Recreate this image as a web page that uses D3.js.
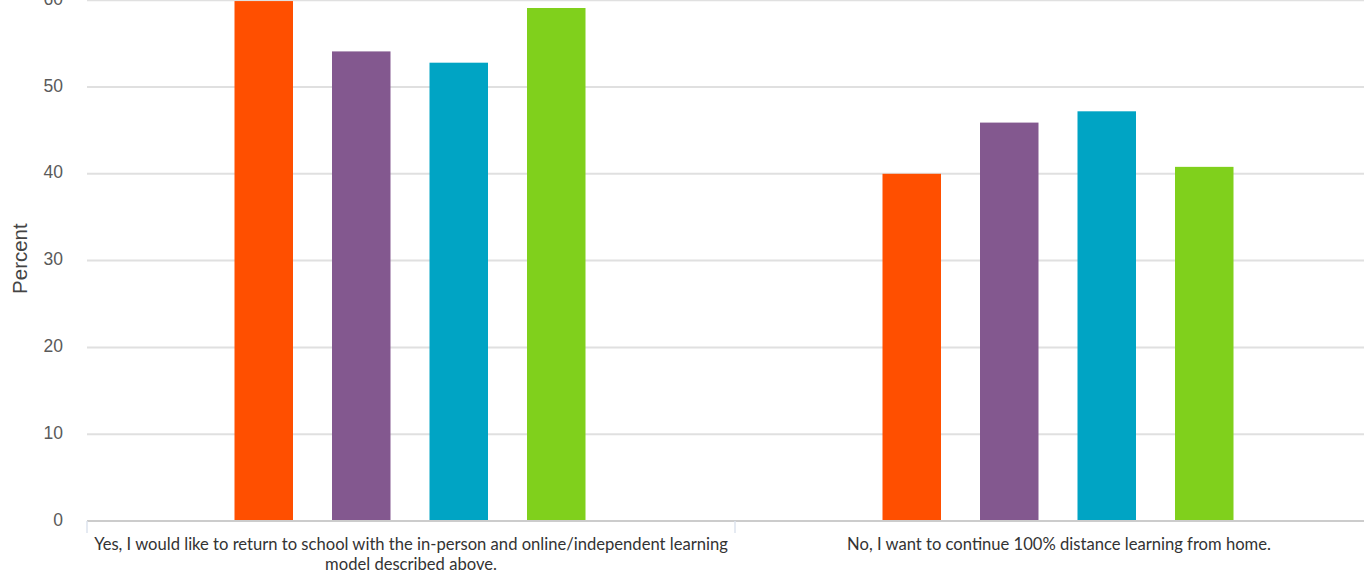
<!DOCTYPE html>
<html>
<head>
<meta charset="utf-8">
<script src="https://cdn.jsdelivr.net/npm/d3@7"></script>
<style>
  html, body { margin: 0; padding: 0; background: #fff; overflow: hidden; }
  svg { display: block; }
  text { font-family: Lato, "Open Sans", sans-serif; }
</style>
</head>
<body>
<svg id="chart" width="1364" height="577"></svg>
<script>
const categories = [
  "Yes, I would like to return to school with the in-person and online/independent learning model described above.",
  "No, I want to continue 100% distance learning from home."
];
const categoryLines = [
  ["Yes, I would like to return to school with the in-person and online/independent learning", "model described above."],
  ["No, I want to continue 100% distance learning from home."]
];
const seriesNames = ["Series 1", "Series 2", "Series 3", "Series 4"];
const seriesColors = ["#ff4f00", "#83588f", "#00a4c4", "#80d01c"];
const seriesValues = [
  [59.9, 40.0],
  [54.1, 45.9],
  [52.8, 47.2],
  [59.1, 40.8]
];
const yTicks = [0, 10, 20, 30, 40, 50, 60];
const yTitle = "Percent";

const svg = d3.select("#chart");
const plotLeft = 87, bandW = 648, plotTop = 0.2, plotBottom = 521;

const x0 = d3.scaleBand().domain(categories).range([plotLeft, plotLeft + bandW * categories.length]).padding(0);
const x1 = d3.scaleBand().domain(seriesNames).range([128, 518]).paddingInner(0.4).paddingOuter(0.2);
const y = d3.scaleLinear().domain([0, 60]).range([plotBottom, plotTop]);

// gridlines
svg.append("g").selectAll("line").data(yTicks.filter(t => t !== 0)).join("line")
  .attr("x1", plotLeft).attr("x2", 1364)
  .attr("y1", d => y(d)).attr("y2", d => y(d))
  .attr("stroke", "#e0e0e0").attr("stroke-width", 2);

// y tick labels
svg.append("g").selectAll("text").data(yTicks).join("text")
  .attr("x", 63).attr("y", d => y(d))
  .attr("text-anchor", "end").attr("dominant-baseline", "middle")
  .style("font-family", "'Liberation Sans', Arial, sans-serif")
  .attr("font-size", 17.5).attr("fill", "#5a5a5a")
  .text(d => d);

// y title
svg.append("text")
  .attr("transform", `translate(27,${(plotTop + plotBottom) / 2 - 2}) rotate(-90)`)
  .attr("text-anchor", "middle")
  .style("font-family", "'Liberation Sans', Arial, sans-serif")
  .attr("font-size", 20.5).attr("fill", "#444")
  .text(yTitle);

// bars
const groups = svg.append("g").selectAll("g").data(categories).join("g")
  .attr("transform", d => `translate(${x0(d)},0)`);
groups.selectAll("rect")
  .data((d, ci) => seriesNames.map((s, si) => ({ s, v: seriesValues[si][ci], c: seriesColors[si] })))
  .join("rect")
  .attr("x", d => x1(d.s))
  .attr("width", x1.bandwidth())
  .attr("y", d => y(d.v))
  .attr("height", d => y(0) - y(d.v))
  .attr("fill", d => d.c);

// x axis line
svg.append("line")
  .attr("x1", plotLeft).attr("x2", 1364).attr("y1", plotBottom).attr("y2", plotBottom)
  .attr("stroke", "#cccccc").attr("stroke-width", 2);

// category ticks (band edges)
const edges = categories.map(c => x0(c)).concat([x0(categories[categories.length - 1]) + x0.bandwidth()]);
svg.append("g").selectAll("line").data(edges).join("line")
  .attr("x1", d => d).attr("x2", d => d)
  .attr("y1", plotBottom).attr("y2", plotBottom + 12)
  .attr("stroke", "#dde3ee").attr("stroke-width", 1.5);

// category labels
const lab = svg.append("g").selectAll("text").data(categories).join("text")
  .attr("x", d => x0(d) + x0.bandwidth() / 2)
  .attr("y", plotBottom + 29)
  .attr("text-anchor", "middle")
  .attr("font-size", 16.6).attr("fill", "#333");
lab.each(function(d, i) {
  const t = d3.select(this);
  categoryLines[i].forEach((ln, k) => {
    t.append("tspan").attr("x", x0(d) + x0.bandwidth() / 2).attr("dy", k === 0 ? 0 : 20).text(ln);
  });
});
</script>
</body>
</html>
